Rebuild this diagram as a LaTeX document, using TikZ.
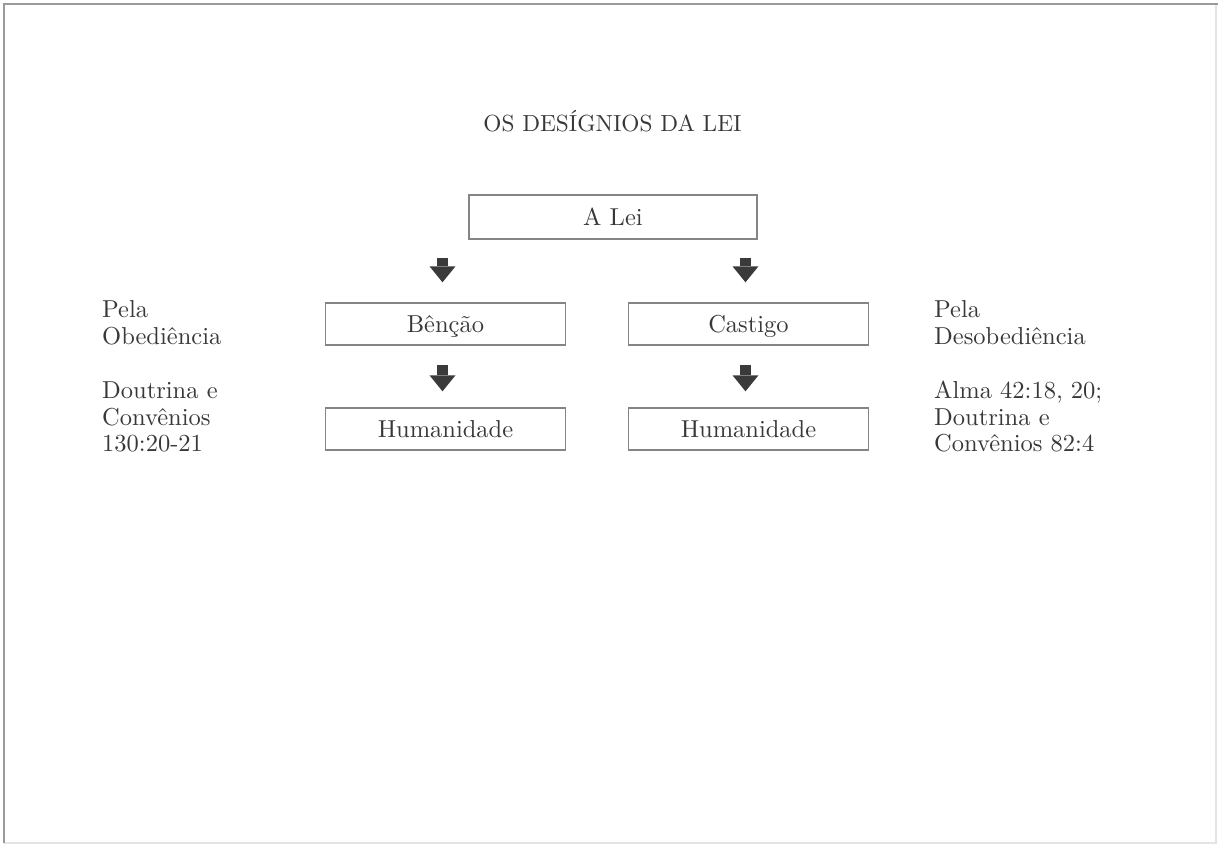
\documentclass[tikz,border=0pt]{standalone}
\usepackage{fontspec}
\setmainfont{lmroman10-regular.otf}
\usetikzlibrary{arrows.meta,calc}

\definecolor{inktext}{HTML}{383838}
\definecolor{boxline}{HTML}{858585}
\definecolor{arrowfill}{HTML}{3A3A3A}
\definecolor{framedark}{HTML}{9A9A9A}
\definecolor{framelight}{HTML}{E4E4E4}

\tikzset{
  lawbox/.style={draw=boxline, line width=1.4pt, rectangle, inner sep=0pt,
    minimum width=240pt, minimum height=42pt, text height=16.5pt, text depth=0pt,
    font=\fontsize{24.5}{27}\selectfont, text=inktext},
  sidetext/.style={anchor=north west, inner sep=0pt, align=left,
    font=\fontsize{24.5}{26.8}\selectfont, text=inktext},
  blockarrow/.style={draw=arrowfill, line width=11pt,
    -{Triangle[width=26pt,length=16pt,line width=0pt]}, fill=arrowfill},
}

\begin{document}
\begin{tikzpicture}[x=1pt, y=-1pt]
  \useasboundingbox (0,0) rectangle (1219,847);

  % page frame
  \draw[framelight, line width=1.5pt] (1216,4) -- (1216,843) -- (4,843);
  \draw[framedark, line width=2pt] (4,843) -- (4,4) -- (1218,4);

  % title
  \node[anchor=base, inner sep=0pt, text=inktext,
        font=\fontsize{23.3}{26}\selectfont] (title) at (612.5,131.7)
        {OS DESÍGNIOS DA LEI};

  % boxes
  \node[lawbox, minimum width=288pt, minimum height=44pt] (lei) at (613,217) {A Lei};
  \node[lawbox] (ben) at (445.5,324) {Bênção};
  \node[lawbox] (cas) at (748.5,324) {Castigo};
  \node[lawbox] (humA) at (445.5,429) {Humanidade};
  \node[lawbox] (humB) at (748.5,429) {Humanidade};

  % block arrows
  \draw[blockarrow, shorten <=18pt, shorten >=20pt]
    ([xshift=-3pt]lei.south -| ben.north) -- ([xshift=-3pt]ben.north);
  \draw[blockarrow, shorten <=18pt, shorten >=20pt]
    ([xshift=-3pt]lei.south -| cas.north) -- ([xshift=-3pt]cas.north);
  \draw[blockarrow, shorten <=19pt, shorten >=16pt]
    ([xshift=-3pt]ben.south) -- ([xshift=-3pt]humA.north);
  \draw[blockarrow, shorten <=19pt, shorten >=16pt]
    ([xshift=-3pt]cas.south) -- ([xshift=-3pt]humB.north);

  % side notes
  \node[sidetext] (obed) at (102,299) {\rule{0pt}{18pt}Pela\\Obediência};
  \node[sidetext] (obedref) at (102,380) {\rule{0pt}{18pt}Doutrina e\\Convênios\\130:20-21};
  \node[sidetext] (desob) at (934,299) {\rule{0pt}{18pt}Pela\\Desobediência};
  \node[sidetext] (desobref) at (934,380) {\rule{0pt}{18pt}Alma 42:18, 20;\\Doutrina e\\Convênios 82:4};
\end{tikzpicture}
\end{document}
